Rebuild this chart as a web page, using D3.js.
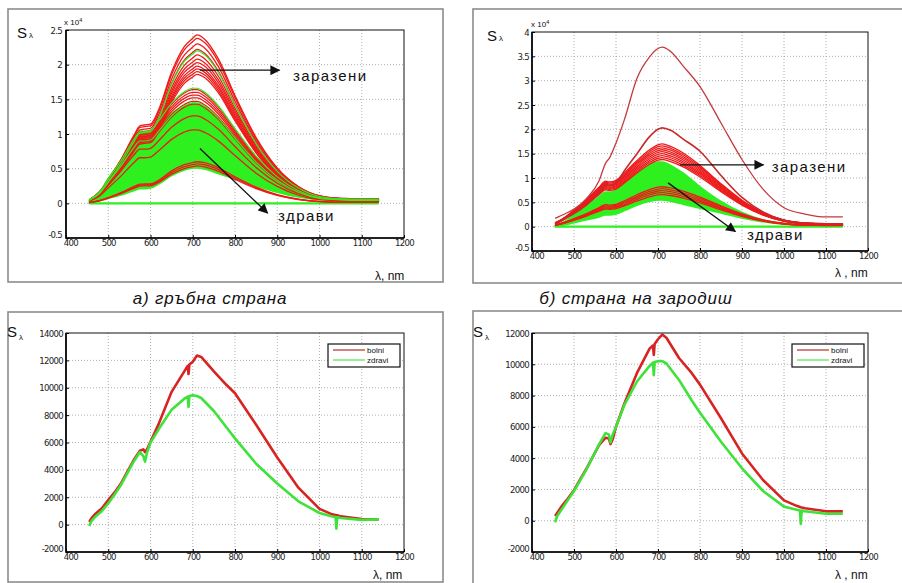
<!DOCTYPE html>
<html>
<head>
<meta charset="utf-8">
<script src="https://cdn.jsdelivr.net/npm/d3@7"></script>
<style>
  body { margin: 0; background: #fff; }
  svg text { font-family: 'Liberation Sans', Arial, sans-serif; fill: #111; }
  .grid { stroke: #9a9a9a; stroke-width: 0.8; stroke-dasharray: 1,2; }
  .axis text { font-family: 'DejaVu Sans Condensed', 'DejaVu Sans', sans-serif; font-size: 9.5px; letter-spacing: -0.7px; fill: #222; }
  .axis line { stroke: #000; }
</style>
</head>
<body>
<script>
// ---- tick values ----
const xTicks = [400, 500, 600, 700, 800, 900, 1000, 1100, 1200];
const yTicksA = [-0.5, 0, 0.5, 1, 1.5, 2, 2.5];
const yTicksB = [-0.5, 0, 0.5, 1, 1.5, 2, 2.5, 3, 3.5, 4];
const yTicksC = [-2000, 0, 2000, 4000, 6000, 8000, 10000, 12000, 14000];
const yTicksD = [-2000, 0, 2000, 4000, 6000, 8000, 10000, 12000];

const captions = ['а) гръбна страна', 'б) страна на зародиш'];
const legendNames = ['bolni', 'zdravi'];

// ---- top panels: wavelength grid, x10^4 units ----
const wlTop = [455, 480, 500, 530, 560, 575, 585, 600, 620, 650, 680, 700, 710, 730, 760, 800, 850, 900, 950, 1000, 1050, 1100, 1140];

// panel a (top-left): normalized spectral shapes
const shapeHiA = [0.02, 0.07, 0.14, 0.26, 0.40, 0.46, 0.465, 0.47, 0.56, 0.78, 0.93, 0.98, 1.00, 0.97, 0.86, 0.64, 0.39, 0.21, 0.10, 0.045, 0.03, 0.028, 0.028];
const shapeLoA = [0.03, 0.10, 0.21, 0.37, 0.55, 0.62, 0.62, 0.63, 0.72, 0.87, 0.97, 1.00, 1.00, 0.96, 0.85, 0.65, 0.41, 0.23, 0.11, 0.05, 0.035, 0.03, 0.03];
const redPeaksHiA = [2.43, 2.38, 2.30, 2.22, 2.14, 2.08, 2.03, 1.98, 1.94, 1.90, 1.86, 0.60, 0.57, 0.54];
const redPeaksLoA = [1.64, 1.60, 1.56, 1.52, 1.47, 1.43, 1.26, 1.06];
const greenPeaksHiA = [2.2];
const greenPeaksLoA = [1.66, 1.45];
const greenTopA = [0.05, 0.17, 0.36, 0.62, 0.92, 1.04, 1.04, 1.05, 1.15, 1.30, 1.40, 1.44, 1.44, 1.38, 1.22, 0.96, 0.63, 0.36, 0.18, 0.09, 0.065, 0.06, 0.06];
const greenBotA = [0.0, 0.035, 0.07, 0.12, 0.18, 0.21, 0.21, 0.22, 0.28, 0.40, 0.48, 0.51, 0.51, 0.49, 0.43, 0.35, 0.25, 0.16, 0.09, 0.05, 0.03, 0.03, 0.03];

// panel b (top-right)
const shapeB = [0.04, 0.12, 0.20, 0.33, 0.48, 0.55, 0.54, 0.56, 0.65, 0.80, 0.93, 0.99, 1.00, 0.97, 0.89, 0.74, 0.52, 0.32, 0.17, 0.08, 0.045, 0.035, 0.035];
const redPeaksB = [1.70, 1.66, 1.62, 1.58, 1.54, 1.50, 1.46, 1.42, 1.38, 0.82, 0.78, 0.74, 0.70, 0.66];
const redMaxB = [0.17, 0.27, 0.36, 0.58, 0.95, 1.30, 1.42, 1.72, 2.20, 3.05, 3.49, 3.66, 3.69, 3.60, 3.30, 2.88, 2.13, 1.38, 0.77, 0.39, 0.26, 0.20, 0.20];
const redSecondB = [0.08, 0.18, 0.27, 0.45, 0.70, 0.86, 0.85, 0.90, 1.15, 1.50, 1.85, 2.00, 2.03, 1.98, 1.80, 1.55, 1.05, 0.60, 0.30, 0.13, 0.07, 0.06, 0.06];
const greenTopB = [0.03, 0.12, 0.25, 0.42, 0.62, 0.71, 0.71, 0.75, 0.90, 1.10, 1.28, 1.33, 1.33, 1.26, 1.10, 0.82, 0.52, 0.29, 0.14, 0.07, 0.05, 0.05, 0.05];
const greenBotB = [0.0, 0.04, 0.08, 0.14, 0.20, 0.24, 0.24, 0.26, 0.33, 0.44, 0.52, 0.55, 0.55, 0.52, 0.46, 0.38, 0.28, 0.18, 0.10, 0.05, 0.03, 0.03, 0.03];

// ---- bottom panels: mean spectra ----
const wlBot = [455, 460, 470, 485, 500, 515, 530, 545, 560, 575, 583, 587, 592, 600, 620, 650, 680, 688, 690, 692, 700, 710, 720, 750, 780, 800, 850, 900, 950, 1000, 1030, 1038, 1040, 1042, 1050, 1100, 1140];
const bolniC  = [200, 450, 800, 1200, 1800, 2350, 3000, 3850, 4700, 5400, 5500, 5300, 5500, 6050, 7400, 9700, 11200, 11600, 11000, 11700, 11900, 12350, 12250, 11200, 10200, 9600, 7300, 4900, 2700, 1150, 750, 700, 680, 680, 600, 400, 380];
const zdraviC = [-100, 250, 600, 1000, 1550, 2200, 2900, 3750, 4600, 5300, 5000, 4600, 5300, 6000, 7000, 8400, 9200, 9350, 8600, 9400, 9450, 9400, 9250, 8300, 7100, 6300, 4450, 3000, 1700, 850, 600, 550, -300, 550, 480, 350, 380];
const bolniD  = [300, 500, 900, 1400, 1950, 2650, 3350, 4100, 4850, 5300, 5250, 4900, 5200, 6000, 7500, 9450, 11000, 11200, 10600, 11300, 11600, 11900, 11700, 10400, 9450, 8700, 6550, 4300, 2600, 1300, 950, 880, 860, 850, 800, 600, 600];
const zdraviD = [-100, 300, 700, 1300, 1900, 2600, 3300, 4100, 4900, 5600, 5500, 5000, 5500, 6000, 7400, 8900, 9900, 10100, 9300, 10150, 10200, 10200, 10050, 9000, 7700, 6900, 5050, 3350, 1900, 900, 700, 650, -200, 650, 600, 450, 450];

const RED = '#ee1a1a', GREEN = '#2ef01e';

const svg = d3.select('body').append('svg').attr('width', 902).attr('height', 583);

const defs = svg.append('defs');
defs.append('marker').attr('id', 'ah')
  .attr('viewBox', '0 0 10 10').attr('refX', 9).attr('refY', 5)
  .attr('markerUnits', 'userSpaceOnUse').attr('markerWidth', 11).attr('markerHeight', 10)
  .attr('orient', 'auto')
  .append('path').attr('d', 'M0,0L10,5L0,10z').attr('fill', '#111');

function drawPanel(p) {
  const [bx0, by0, bx1, by1] = p.box;
  const x = d3.scaleLinear().domain([400, 1200]).range([bx0, bx1]);
  const y = d3.scaleLinear().domain(p.yDomain).range([by1, by0]);
  const g = svg.append('g');

  g.append('rect')
    .attr('x', p.frame[0]).attr('y', p.frame[1])
    .attr('width', p.frame[2]).attr('height', p.frame[3])
    .attr('fill', 'none').attr('stroke', '#8c8c8c').attr('stroke-width', 1.6);

  g.append('g').selectAll('line').data(xTicks.slice(1, -1)).join('line')
    .attr('class', 'grid')
    .attr('x1', d => x(d)).attr('x2', d => x(d)).attr('y1', by0).attr('y2', by1);
  g.append('g').selectAll('line').data(p.yTicks.slice(1, -1)).join('line')
    .attr('class', 'grid')
    .attr('x1', bx0).attr('x2', bx1).attr('y1', d => y(d)).attr('y2', d => y(d));

  const plot = g.append('g');

  g.append('rect').attr('x', bx0).attr('y', by0)
    .attr('width', bx1 - bx0).attr('height', by1 - by0)
    .attr('fill', 'none').attr('stroke', '#111').attr('stroke-width', 1);
  g.append('path')
    .attr('d', `M${bx0},${by0}V${by1}H${bx1}`)
    .attr('fill', 'none').attr('stroke', '#000').attr('stroke-width', 1.6);

  const ax = g.append('g').attr('class', 'axis').attr('transform', `translate(0,${by1})`)
    .call(d3.axisBottom(x).tickValues(xTicks).tickSize(-3).tickPadding(1).tickFormat(String));
  const ay = g.append('g').attr('class', 'axis').attr('transform', `translate(${bx0},0)`)
    .call(d3.axisLeft(y).tickValues(p.yTicks).tickSize(-3).tickPadding(p.yPad).tickFormat(String));
  ax.select('.domain').remove();
  ay.select('.domain').remove();
  ax.attr('font-size', null).attr('font-family', null);
  ay.attr('font-size', null).attr('font-family', null);
  // corner labels sit close together, as in MATLAB: nudge so they don't collide
  ay.selectAll('.tick text').filter((d, i) => i === 0).attr('dy', '-0.05em');
  ax.selectAll('.tick text').filter((d, i) => i === 0).attr('dx', '0.45em');

  // S_lambda
  const s = g.append('text').attr('x', p.sPos[0]).attr('y', p.sPos[1]).attr('font-size', 15);
  s.append('tspan').text('S');
  s.append('tspan').attr('font-size', 8).attr('dx', 2).attr('dy', p.subDy).text('λ');

  // x label
  g.append('text').attr('x', p.xLab[0]).attr('y', p.xLab[1]).attr('font-size', 12).text(p.xLabText);

  if (p.mult) {
    const m = g.append('text').attr('x', p.mult[0]).attr('y', p.mult[1]).attr('font-size', 8);
    m.append('tspan').text('x 10');
    m.append('tspan').attr('font-size', 5.5).attr('dy', -3).text('4');
  }
  return { g, plot, x, y };
}

function lineGen(P, curve) {
  return d3.line().x(d => P.x(d[0])).y(d => P.y(d[1])).curve(curve);
}

function bundle(P, shape, peaks, color, width) {
  const line = lineGen(P, d3.curveMonotoneX);
  P.plot.append('g').selectAll('path').data(peaks).join('path')
    .attr('d', a => line(wlTop.map((w, i) => [w, a * shape[i]])))
    .attr('fill', 'none').attr('stroke', color).attr('stroke-width', width);
}

function greenBand(P, top, bot) {
  const area = d3.area().x(d => P.x(d[0])).y0(d => P.y(d[1])).y1(d => P.y(d[2])).curve(d3.curveMonotoneX);
  P.plot.append('path')
    .attr('d', area(wlTop.map((w, i) => [w, bot[i], top[i]])))
    .attr('fill', GREEN).attr('stroke', GREEN).attr('stroke-width', 1.5);
  const line = lineGen(P, d3.curveLinear);
  P.plot.append('path')
    .attr('d', line([[wlTop[0], 0], [wlTop[wlTop.length - 1], 0]]))
    .attr('stroke', GREEN).attr('stroke-width', 2.2);
}

function arrow(P, from, to, label, at) {
  P.g.append('line')
    .attr('x1', P.x(from[0])).attr('y1', P.y(from[1]))
    .attr('x2', P.x(to[0])).attr('y2', P.y(to[1]))
    .attr('stroke', '#111').attr('stroke-width', 1.3)
    .attr('marker-end', 'url(#ah)');
  P.g.append('text').attr('x', P.x(at[0])).attr('y', P.y(at[1]))
    .attr('font-size', 15).attr('letter-spacing', 1.4).text(label);
}

// ---------- panel a ----------
const PA = drawPanel({
  frame: [8, 9, 435, 273], box: [66, 30, 404, 238],
  yDomain: [-0.5, 2.5], yTicks: yTicksA, yPad: 4,
  sPos: [17, 38], subDy: 0, xLab: [375, 280], xLabText: 'λ, nm', mult: [64, 25]
});
greenBand(PA, greenTopA, greenBotA);
bundle(PA, shapeLoA, redPeaksLoA, RED, 1.3);
bundle(PA, shapeHiA, redPeaksHiA, RED, 1.3);
bundle(PA, shapeHiA, greenPeaksHiA, GREEN, 1.2);
bundle(PA, shapeLoA, greenPeaksLoA, GREEN, 1.2);
arrow(PA, [717, 1.92], [905, 1.92], 'заразени', [937, 1.77]);
arrow(PA, [717, 0.79], [877, -0.14], 'здрави', [902, -0.26]);

// ---------- panel b ----------
const PB = drawPanel({
  frame: [473, 9, 440, 274], box: [532, 32, 868, 251],
  yDomain: [-0.5, 4], yTicks: yTicksB, yPad: 3,
  sPos: [487, 41], subDy: 0, xLab: [835, 277], xLabText: 'λ , nm', mult: [531, 27]
});
greenBand(PB, greenTopB, greenBotB);
bundle(PB, shapeB, redPeaksB, RED, 1.3);
{
  const line = lineGen(PB, d3.curveMonotoneX);
  PB.plot.append('path').attr('d', line(wlTop.map((w, i) => [w, redSecondB[i]])))
    .attr('fill', 'none').attr('stroke', '#c8282a').attr('stroke-width', 1.6);
  PB.plot.append('path').attr('d', line(wlTop.map((w, i) => [w, redMaxB[i]])))
    .attr('fill', 'none').attr('stroke', '#c33a3c').attr('stroke-width', 1.3);
}
arrow(PB, [752, 1.27], [951, 1.27], 'заразени', [971, 1.13]);
arrow(PB, [724, 0.9], [884, -0.1], 'здрави', [912, -0.27]);

// ---------- bottom panels ----------
function meanPanel(cfg, bolni, zdravi) {
  const P = drawPanel(cfg);
  const line = lineGen(P, d3.curveLinear);
  P.plot.append('path').attr('d', line(wlBot.map((w, i) => [w, bolni[i]])))
    .attr('fill', 'none').attr('stroke', '#d82323').attr('stroke-width', 2.6).attr('stroke-linejoin', 'round');
  P.plot.append('path').attr('d', line(wlBot.map((w, i) => [w, zdravi[i]])))
    .attr('fill', 'none').attr('stroke', '#3ee23a').attr('stroke-width', 2.6).attr('stroke-linejoin', 'round');

  const lx = cfg.box[2] - 76, ly = cfg.box[1] + 11;
  const lg = P.g.append('g').attr('transform', `translate(${lx},${ly})`);
  lg.append('rect').attr('width', 72).attr('height', 23)
    .attr('fill', '#fff').attr('stroke', '#111').attr('stroke-width', 1.2);
  const cols = ['#b52a2a', '#55e055'];
  legendNames.forEach((n, i) => {
    lg.append('line').attr('x1', 5).attr('x2', 37).attr('y1', 6 + i * 10).attr('y2', 6 + i * 10)
      .attr('stroke', cols[i]).attr('stroke-width', 1.2);
    lg.append('text').attr('x', 39).attr('y', 9 + i * 10).attr('font-size', 8).text(n);
  });
  return P;
}

meanPanel({
  frame: [8, 312, 435, 270], box: [66, 333, 404, 552],
  yDomain: [-2000, 14000], yTicks: yTicksC, yPad: 3,
  sPos: [7, 337], subDy: 3, xLab: [373, 579], xLabText: 'λ, nm'
}, bolniC, zdraviC);

meanPanel({
  frame: [473, 311, 440, 280], box: [532, 333, 868, 552],
  yDomain: [-2000, 12000], yTicks: yTicksD, yPad: 3,
  sPos: [473, 337], subDy: 3, xLab: [835, 579], xLabText: 'λ , nm'
}, bolniD, zdraviD);

// captions
svg.selectAll('text.cap').data(captions).join('text')
  .attr('class', 'cap')
  .attr('x', (d, i) => [210, 636][i]).attr('y', 304)
  .attr('text-anchor', 'middle').attr('font-size', 17).attr('font-style', 'italic')
  .attr('letter-spacing', 0.8)
  .text(d => d);
</script>
</body>
</html>
